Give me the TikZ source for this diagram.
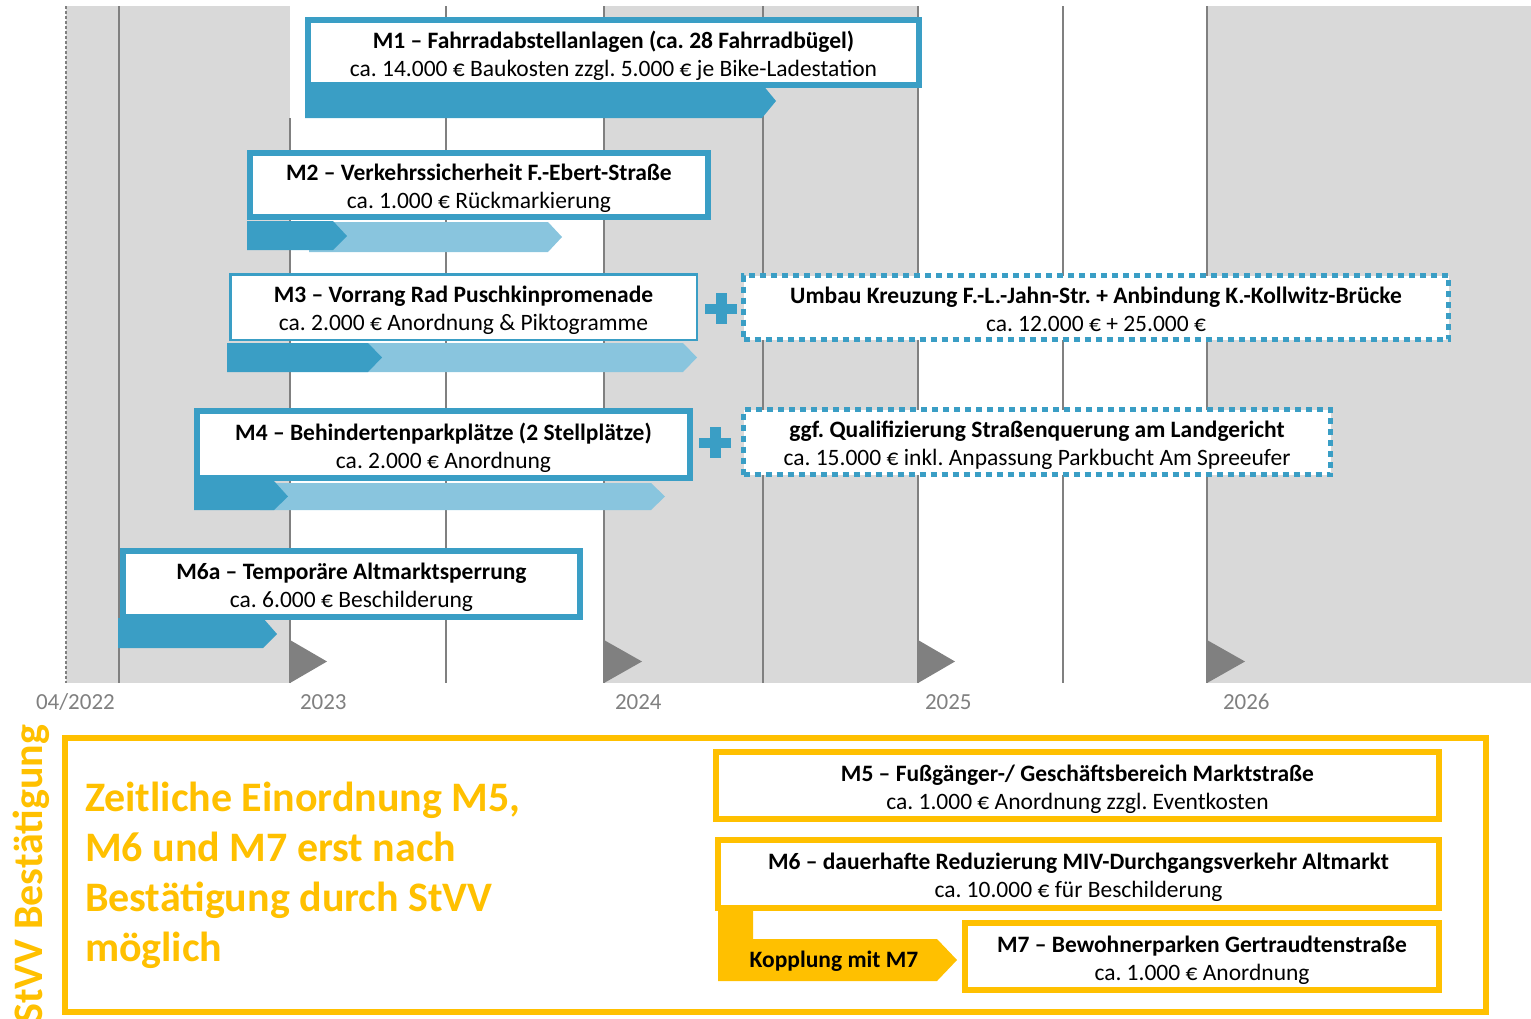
\documentclass[tikz,border=0pt]{standalone}
\usepackage{fontspec}
\setmainfont{Carlito}
\frenchspacing
\definecolor{cblue}{HTML}{3A9EC5}
\definecolor{clight}{HTML}{89C5DE}
\definecolor{cgraybg}{HTML}{D9D9D9}
\definecolor{cline}{HTML}{808080}
\definecolor{cyellow}{HTML}{FFC000}
\newcommand\twolines[2]{{\bfseries\rule{0pt}{25pt}#1}\\#2\rule[-6pt]{0pt}{6pt}}
\begin{document}
\begin{tikzpicture}[x=1pt,y=-1pt,
  every node/.style={inner sep=0pt, outer sep=0pt},
  txt/.style={align=center, font=\fontsize{23.5}{28}\selectfont},
  bluebox/.style={txt, draw=cblue, line width=6pt, fill=white},
  thinbox/.style={txt, draw=cblue, line width=2.5pt, fill=white},
  dashbox/.style={txt, draw=cblue, line width=5pt, dash pattern=on 6pt off 5pt, fill=white},
  ybox/.style={txt, draw=cyellow, line width=6pt, fill=white},
  yearline/.style={draw=cline, line width=2.5pt},
  midline/.style={draw=cline, line width=1.2pt},
  milestone/.style={fill=cline},
  darkbar/.style={fill=cblue},
  lightbar/.style={fill=clight},
  yearlabel/.style={anchor=base west, text=cline, font=\fontsize{23}{26}\selectfont},
  plussign/.style={fill=cblue}
]
\useasboundingbox (0,0) rectangle (1531,1018);

% background bands
\fill[cgraybg] (66,6) rectangle (290,683);
\fill[cgraybg] (604,6) rectangle (918,683);
\fill[cgraybg] (1207,6) rectangle (1531,683);

% grid lines
\draw[draw=cline, line width=1.2pt, dash pattern=on 3pt off 2pt] (66,6) -- (66,683);
\draw[midline] (119,6) -- (119,683);
\draw[yearline] (290,118) -- (290,683);
\draw[midline] (446,6) -- (446,683);
\draw[yearline] (604,6) -- (604,683);
\draw[midline] (763,6) -- (763,683);
\draw[yearline] (918,6) -- (918,683);
\draw[midline] (1063,6) -- (1063,683);
\draw[yearline] (1207,6) -- (1207,683);

% milestones
\fill[milestone] (290,640) -- (327,661.5) -- (290,683) -- cycle;
\fill[milestone] (604,640) -- (642,661.5) -- (604,683) -- cycle;
\fill[milestone] (918,640) -- (955,661.5) -- (918,683) -- cycle;
\fill[milestone] (1207,640) -- (1245,661.5) -- (1207,683) -- cycle;

% year labels
\node[yearlabel] (y22) at (36,709) {04/2022};
\node[yearlabel] (y23) at (300,709) {2023};
\node[yearlabel] (y24) at (615,709) {2024};
\node[yearlabel] (y25) at (925,709) {2025};
\node[yearlabel] (y26) at (1223,709) {2026};

% bars
\fill[darkbar] (305,84) -- (762,84) -- (776,101) -- (762,118) -- (305,118) -- cycle;
\fill[lightbar] (309,222) -- (548,222) -- (562,237) -- (548,252) -- (309,252) -- cycle;
\fill[darkbar] (247,221) -- (333,221) -- (347,236) -- (333,250) -- (247,250) -- cycle;
\fill[lightbar] (340,343) -- (683,343) -- (697,357.5) -- (683,372) -- (340,372) -- cycle;
\fill[darkbar] (227,343) -- (368,343) -- (382,357.5) -- (368,372) -- (227,372) -- cycle;
\fill[lightbar] (260,483) -- (651,483) -- (665,496.5) -- (651,510) -- (260,510) -- cycle;
\fill[darkbar] (194,481) -- (274,481) -- (288,496.5) -- (274,510) -- (194,510) -- cycle;
\fill[darkbar] (118,618) -- (263,618) -- (277,634) -- (263,648) -- (118,648) -- cycle;

% boxes
\node[bluebox, minimum width=611pt, minimum height=65pt] (m1) at (613.5,52.5)
  {\twolines{M1 – Fahrradabstellanlagen (ca. 28 Fahrradbügel)}{ca. 14.000 € Baukosten zzgl. 5.000 € je Bike-Ladestation}};
\node[bluebox, minimum width=458pt, minimum height=64pt] (m2) at (479,185)
  {\twolines{M2 – Verkehrssicherheit F.-Ebert-Straße}{ca. 1.000 € Rückmarkierung}};
\node[thinbox, minimum width=466.5pt, minimum height=65.5pt] (m3) at (463.5,307)
  {\twolines{M3 – Vorrang Rad Puschkinpromenade}{ca. 2.000 € Anordnung \& Piktogramme}};
\node[bluebox, minimum width=493pt, minimum height=67pt] (m4) at (443.5,444.5)
  {\twolines{M4 – Behindertenparkplätze (2 Stellplätze)}{ca. 2.000 € Anordnung}};
\node[bluebox, minimum width=457pt, minimum height=66pt] (m6a) at (351.5,584)
  {\twolines{M6a – Temporäre Altmarktsperrung}{ca. 6.000 € Beschilderung}};
\node[dashbox, minimum width=705pt, minimum height=64pt] (d1) at (1096,307.5)
  {\twolines{Umbau Kreuzung F.-L.-Jahn-Str. + Anbindung K.-Kollwitz-Brücke}{ca. 12.000 € + 25.000 €}};
\node[dashbox, minimum width=587pt, minimum height=65pt] (d2) at (1037,442)
  {\twolines{ggf. Qualifizierung Straßenquerung am Landgericht}{ca. 15.000 € inkl. Anpassung Parkbucht Am Spreeufer}};

% plus signs
\coordinate (p1) at (721,308.5);
\coordinate (p2) at (715,442.5);
\fill[plussign] ([xshift=-16pt,yshift=-5pt]p1) rectangle ([xshift=16pt,yshift=5pt]p1);
\fill[plussign] ([xshift=-5.5pt,yshift=-15.5pt]p1) rectangle ([xshift=5.5pt,yshift=15.5pt]p1);
\fill[plussign] ([xshift=-16pt,yshift=-5pt]p2) rectangle ([xshift=16pt,yshift=5pt]p2);
\fill[plussign] ([xshift=-5.5pt,yshift=-15.5pt]p2) rectangle ([xshift=5.5pt,yshift=15.5pt]p2);

% yellow section
\draw[cyellow, line width=6pt] (65,738) rectangle (1486,1012);
\node[rotate=90, anchor=base east, text=cyellow, font=\bfseries\fontsize{42}{50}\selectfont] (stvv) at (42,725) {StVV Bestätigung};
\node[anchor=west, align=left, text=cyellow, font=\bfseries\fontsize{42}{50}\selectfont] (note) at (85,875)
  {Zeitliche Einordnung M5,\\M6 und M7 erst nach\\Bestätigung durch StVV\\möglich};

\fill[cyellow] (718,906) -- (753,906) -- (753,939) -- (937,939) -- (957,960) -- (937,981) -- (718,981) -- cycle;
\node[font=\bfseries\fontsize{23.5}{26}\selectfont] (kop) at (834,961) {Kopplung mit M7};

\node[ybox, minimum width=723pt, minimum height=67pt] (m5) at (1077.5,785.5)
  {\twolines{M5 – Fußgänger-/ Geschäftsbereich Marktstraße}{ca. 1.000 € Anordnung zzgl. Eventkosten}};
\node[ybox, minimum width=721pt, minimum height=68pt] (m6) at (1078.5,874)
  {\twolines{M6 – dauerhafte Reduzierung MIV-Durchgangsverkehr Altmarkt}{ca. 10.000 € für Beschilderung}};
\node[ybox, minimum width=474pt, minimum height=67pt] (m7) at (1202,956.5)
  {\twolines{M7 – Bewohnerparken Gertraudtenstraße}{ca. 1.000 € Anordnung}};
\end{tikzpicture}
\end{document}
